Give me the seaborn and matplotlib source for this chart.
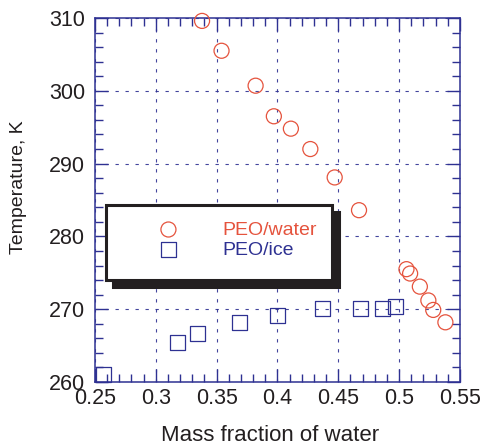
import matplotlib
matplotlib.use("Agg")
import matplotlib.pyplot as plt
import seaborn as sns
import pandas as pd
from matplotlib.patches import Rectangle
from matplotlib.ticker import MultipleLocator, FixedLocator, FixedFormatter

# ---- data ----
water_x = [0.338, 0.354, 0.382, 0.397, 0.411, 0.427, 0.447, 0.467, 0.506, 0.509, 0.517, 0.524, 0.528, 0.538]
water_T = [309.6, 305.5, 300.7, 296.5, 294.8, 292.0, 288.1, 283.6, 275.5, 274.9, 273.1, 271.2, 269.9, 268.2]
ice_x = [0.257, 0.318, 0.334, 0.369, 0.400, 0.437, 0.468, 0.486, 0.497]
ice_T = [261.0, 265.4, 266.7, 268.2, 269.1, 270.1, 270.1, 270.1, 270.4]
series_labels = ["PEO/water", "PEO/ice"]
x_ticks = [0.25, 0.3, 0.35, 0.4, 0.45, 0.5, 0.55]
x_ticklabels = ["0.25", "0.3", "0.35", "0.4", "0.45", "0.5", "0.55"]
y_ticks = [260, 270, 280, 290, 300, 310]
x_label = "Mass fraction of water"
y_label = "Temperature, K"

RED = "#E5533D"
NAVY = "#2E3192"
INK = "#231F20"

sns.set_theme(style="white")
plt.rcParams["font.family"] = ["Liberation Sans", "DejaVu Sans"]

W, H = 481, 448
fig = plt.figure(figsize=(W / 100, H / 100), dpi=100)
L, R, T, B = 95, 460, 18, 382
ax = fig.add_axes([L / W, 1 - B / H, (R - L) / W, (B - T) / H])

df_w = pd.DataFrame({"x": water_x, "T": water_T})
df_i = pd.DataFrame({"x": ice_x, "T": ice_T})

sns.scatterplot(data=df_w, x="x", y="T", ax=ax, marker="o", s=117,
                facecolors="none", edgecolor=RED, linewidth=0.9,
                label=series_labels[0], zorder=5, clip_on=False)
sns.scatterplot(data=df_i, x="x", y="T", ax=ax, marker="s", s=117,
                facecolors="none", edgecolor=NAVY, linewidth=0.9,
                label=series_labels[1], zorder=5, clip_on=False)

ax.set_xlim(0.25, 0.55)
ax.set_ylim(260, 310)
ax.xaxis.set_major_locator(FixedLocator(x_ticks))
ax.xaxis.set_major_formatter(FixedFormatter(x_ticklabels))
ax.xaxis.set_minor_locator(MultipleLocator(0.01))
ax.yaxis.set_major_locator(FixedLocator(y_ticks))
ax.yaxis.set_minor_locator(MultipleLocator(2))

ax.grid(True, which="major", color=NAVY, linewidth=0.8, linestyle=(0, (3, 6)), alpha=0.9)
ax.set_axisbelow(True)

for s in ax.spines.values():
    s.set_color(NAVY)
    s.set_linewidth(1.1)
    s.set_visible(True)

ax.tick_params(axis="both", which="both", direction="in", top=True, right=True,
               bottom=True, left=True, color=NAVY, labelcolor=INK)
ax.tick_params(axis="both", which="major", length=9.5, width=1.0, labelsize=15.5)
ax.tick_params(axis="both", which="minor", length=5.8, width=1.0)
ax.tick_params(axis="x", which="major", pad=4.5)
ax.tick_params(axis="y", which="major", pad=7)

ax.set_xlabel(x_label, fontsize=16, color=INK)
ax.set_ylabel(y_label, fontsize=14, color=INK)
ax.xaxis.set_label_coords((270 - L) / (R - L), (B - 425) / (B - T))
ax.yaxis.set_label_coords((27 - L) / (R - L), (B - 187) / (B - T))

# legend: box with hard black drop shadow
def ax_xy(px, py):
    return ((px - L) / (R - L), (B - py) / (B - T))

bx0, by0 = ax_xy(106, 280)
bx1, by1 = ax_xy(332, 205)
off_x = 7 / (R - L)
off_y = 7 / (B - T)
shadow = Rectangle((bx0 + off_x, by0 - off_y), bx1 - bx0, by1 - by0,
                   transform=ax.transAxes, facecolor=INK, edgecolor=INK,
                   linewidth=2.2, zorder=8, clip_on=False)
box = Rectangle((bx0, by0), bx1 - bx0, by1 - by0, transform=ax.transAxes,
                facecolor="white", edgecolor=INK, linewidth=2.2, zorder=9,
                clip_on=False)
ax.add_patch(shadow)
ax.add_patch(box)

ax_legend_anchor = ax_xy(149, 221)
leg = ax.legend(loc="upper left", bbox_to_anchor=ax_legend_anchor, frameon=False,
                fontsize=14, borderpad=0, borderaxespad=0, handlelength=2.0,
                handletextpad=1.79, labelspacing=0.12)
leg.set_zorder(10)
for txt, c in zip(leg.get_texts(), [RED, NAVY]):
    txt.set_color(c)

fig.savefig("out.png", dpi=100)
